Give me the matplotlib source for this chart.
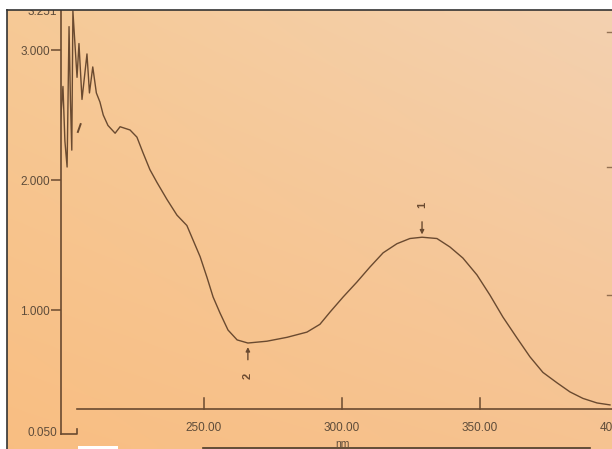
import numpy as np
import matplotlib
matplotlib.use("Agg")
import matplotlib.pyplot as plt
from matplotlib.patches import Rectangle
from matplotlib.lines import Line2D

plt.rcParams['font.family'] = ['Liberation Sans', 'DejaVu Sans']

# ---- data ----
wavelength = [197.1, 198.0, 198.9, 199.6, 200.4, 201.1, 201.6, 202.1, 202.5,
              204.0, 204.7, 205.8, 207.6, 208.5, 209.7, 211.0, 212.3, 213.5,
              215.2, 217.8, 219.6, 223.2, 225.7, 227.9, 230.4, 233.0, 236.6,
              240.2, 243.8, 246.0, 248.6, 251.1, 253.3, 255.8, 258.7, 262.0,
              265.9, 272.8, 280.1, 287.3, 292.0, 295.7, 300.4, 305.4, 310.1,
              314.9, 319.9, 324.6, 329.0, 334.4, 339.1, 343.8, 348.9, 353.6,
              358.3, 363.4, 368.1, 372.8, 377.9, 382.6, 387.3, 392.4, 397.1]
absorbance = [2.10, 2.45, 2.72, 2.30, 2.10, 3.18, 2.62, 2.23, 3.30,
              2.79, 3.05, 2.62, 2.97, 2.67, 2.87, 2.67, 2.60, 2.50,
              2.42, 2.36, 2.41, 2.385, 2.33, 2.21, 2.08, 1.98, 1.85,
              1.73, 1.65, 1.54, 1.41, 1.25, 1.10, 0.977, 0.846, 0.77,
              0.746, 0.76, 0.79, 0.83, 0.89, 0.985, 1.10, 1.215, 1.33,
              1.44, 1.51, 1.55, 1.56, 1.55, 1.485, 1.40, 1.27, 1.115,
              0.946, 0.785, 0.64, 0.52, 0.44, 0.37, 0.32, 0.285, 0.27]
x_ticks = [250, 300, 350, 400]
x_tick_labels = ["250.00", "300.00", "350.00", "400.00"]
y_ticks = [1.0, 2.0, 3.0]
y_tick_labels = ["1.000", "2.000", "3.000"]
y_min_label = "0.050"
y_max_label = "3.251"
peak_labels = ["1", "2"]
x_unit = "nm"

# ---- style ----
ink = "#6a4a30"
text_c = "#5e4c3a"
W, H = 612, 449

fig = plt.figure(figsize=(W / 100, H / 100), dpi=100)
fig.patch.set_facecolor("white")

# background photo gradient
bg = fig.add_axes([7 / W, 0, (W - 7) / W, (H - 10) / H], zorder=-1)
bg.set_axis_off()
ny, nx = 60, 80
yy, xx = np.mgrid[0:1:ny * 1j, 0:1:nx * 1j]
tl = np.array([0.965, 0.790, 0.590])
tr = np.array([0.955, 0.820, 0.690])
bl = np.array([0.975, 0.745, 0.510])
br = np.array([0.965, 0.765, 0.570])
img = ((1 - yy)[..., None] * ((1 - xx)[..., None] * tl + xx[..., None] * tr)
       + yy[..., None] * ((1 - xx)[..., None] * bl + xx[..., None] * br))
bg.imshow(img, aspect="auto", extent=[0, 1, 0, 1], origin="upper", interpolation="bilinear")

# main axes
ax_left_px, ax_top_px, ax_bot_px = 61, 10, 433.5
ax = fig.add_axes([ax_left_px / W, (H - ax_bot_px) / H,
                   (W - ax_left_px) / W, (ax_bot_px - ax_top_px) / H])
ax.patch.set_alpha(0)
ax.set_xlim(198.19, 397.83)
ax.set_ylim(0.05, 3.308)
for s in ["top", "right", "bottom"]:
    ax.spines[s].set_visible(False)
ax.spines["left"].set_color(ink)
ax.spines["left"].set_linewidth(1.2)
ax.set_xticks([])
ax.set_yticks(y_ticks)
ax.set_yticklabels(y_tick_labels)
ax.tick_params(axis="y", direction="out", length=7, width=1.1, color=ink,
               labelcolor=text_c, labelsize=8.5, pad=1)

# spectrum
ax.plot(wavelength, absorbance, color=ink, lw=1.0, solid_joinstyle="round")

# x axis line (instrument style, raised above the 0.050 floor)
x_axis_level = 0.235
tick_h = 0.09
ax.plot([204.0, 397.83], [x_axis_level, x_axis_level], color=ink, lw=1.2, clip_on=False)
for xt, lab in zip(x_ticks, x_tick_labels):
    if xt <= 397.83:
        ax.plot([xt, xt], [x_axis_level, x_axis_level + tick_h], color=ink, lw=1.1)
    ax.text(xt, 0.095, lab, ha="center", va="center", fontsize=8.5, color=text_c, clip_on=False)
ax.text(300.3, -0.03, x_unit, ha="center", va="center", fontsize=7.5, color=text_c, clip_on=False)

# bottom-left bracket and 0.050 label
ax.plot([198.19, 204.0, 204.0], [0.05, 0.05, 0.085], color=ink, lw=1.2, clip_on=False)
ax.text(196.7, 0.05, y_min_label, ha="right", va="center", fontsize=8.5, color=text_c, clip_on=False)
# top label, partly hidden by the photo edge as in the reference
ax.text(196.7, 3.29, y_max_label, ha="right", va="center", fontsize=8.5, color=text_c, clip_on=False)

# peak / valley markers
a = np.array(absorbance)
w = np.array(wavelength)
mask_pk = w > 300
i_pk = np.argmax(np.where(mask_pk, a, -1))
mask_vl = (w > 250) & (w < 300)
i_vl = np.argmin(np.where(mask_vl, a, 9))
ax.annotate("", xy=(w[i_pk], a[i_pk]), xytext=(w[i_pk], a[i_pk] + 0.14),
            arrowprops=dict(arrowstyle="-|>", color=ink, lw=1.0, mutation_scale=6))
ax.text(w[i_pk], a[i_pk] + 0.25, peak_labels[0], rotation=90, ha="center", va="center",
        fontsize=8, color=ink, fontweight="bold")
ax.annotate("", xy=(w[i_vl], a[i_vl] - 0.01), xytext=(w[i_vl], a[i_vl] - 0.15),
            arrowprops=dict(arrowstyle="-|>", color=ink, lw=1.0, mutation_scale=6))
ax.text(w[i_vl], a[i_vl] - 0.25, peak_labels[1], rotation=90, ha="center", va="center",
        fontsize=8, color=ink, fontweight="bold")
# small stray mark near the noisy start
ax.plot([204.3, 205.3], [2.37, 2.43], color=ink, lw=1.4)

# white photo border (top strip and left strip)
fig.add_artist(Rectangle((0, 1 - 10 / H), 1, 10 / H, transform=fig.transFigure,
                         facecolor="white", edgecolor="none", zorder=10))
fig.add_artist(Rectangle((0, 0), 7 / W, 1, transform=fig.transFigure,
                         facecolor="white", edgecolor="none", zorder=10))
fig.add_artist(Line2D([7 / W, 1], [1 - 10 / H, 1 - 10 / H], transform=fig.transFigure,
                      color="#333333", lw=1.2, zorder=11))
fig.add_artist(Line2D([7 / W, 7 / W], [0, 1 - 10 / H], transform=fig.transFigure,
                      color="#333333", lw=1.2, zorder=11))

# faint right-side marks and bottom table edge
for py in [32, 167, 295]:
    fig.add_artist(Line2D([607 / W, 611 / W], [1 - py / H, 1 - py / H], transform=fig.transFigure,
                          color=ink, lw=1.0, alpha=0.7, zorder=11))
fig.add_artist(Line2D([203 / W, 590 / W], [1.5 / H, 1.5 / H], transform=fig.transFigure,
                      color="#4a3a2a", lw=1.2, zorder=11))
fig.add_artist(Rectangle((78 / W, 0), 40 / W, 3 / H, transform=fig.transFigure,
                         facecolor="white", edgecolor="none", zorder=11))

fig.savefig("out.png", dpi=100)
